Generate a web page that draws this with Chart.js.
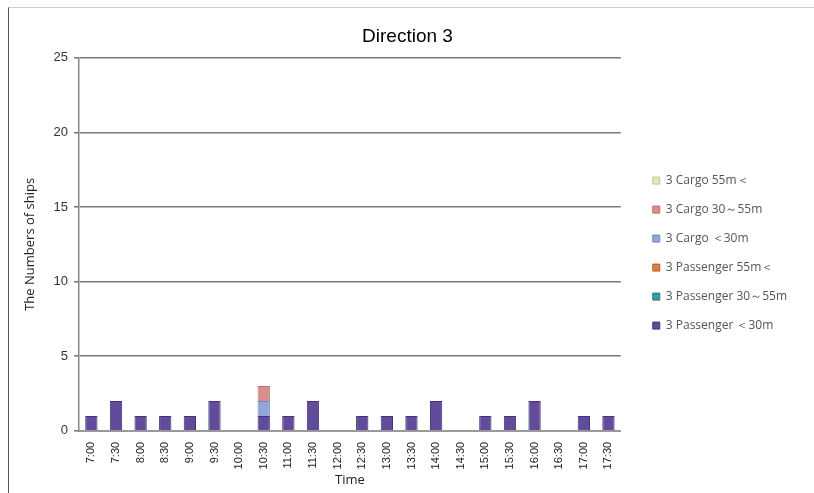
<!DOCTYPE html>
<html>
<head>
<meta charset="utf-8">
<script src="https://cdn.jsdelivr.net/npm/chart.js@4"></script>
<style>
  body { margin: 0; background: #fff; }
  #frame { position: absolute; left: 8px; top: 7px; width: 806px; height: 486px;
           border-left: 1px solid #555; border-top: 1px solid #ccc; }
  #wrap { position: absolute; left: 0; top: 0; width: 814px; height: 493px; }
</style>
</head>
<body>
<div id="frame"></div>
<div id="wrap"><canvas id="chartCanvas" width="814" height="493"></canvas></div>
<script>
// tidspunkter langs x-aksen
const times = ['7:00','7:30','8:00','8:30','9:00','9:30','10:00','10:30','11:00','11:30','12:00',
               '12:30','13:00','13:30','14:00','14:30','15:00','15:30','16:00','16:30','17:00','17:30'];

// antal skibe pr. kategori
const passengerUnder30 = [1,2,1,1,1,2,0,1,1,2,0,1,1,1,2,0,1,1,2,0,1,1];
const passenger30to55  = [0,0,0,0,0,0,0,0,0,0,0,0,0,0,0,0,0,0,0,0,0,0];
const passengerOver55  = [0,0,0,0,0,0,0,0,0,0,0,0,0,0,0,0,0,0,0,0,0,0];
const cargoUnder30     = [0,0,0,0,0,0,0,1,0,0,0,0,0,0,0,0,0,0,0,0,0,0];
const cargo30to55      = [0,0,0,0,0,0,0,1,0,0,0,0,0,0,0,0,0,0,0,0,0,0];
const cargoOver55      = [0,0,0,0,0,0,0,0,0,0,0,0,0,0,0,0,0,0,0,0,0,0];

const yTicks = [0,5,10,15,20,25];

function ds(label, data, color, border) {
  return { label: label, data: data, backgroundColor: color, borderColor: border,
           borderWidth: 1, barPercentage: 0.5, categoryPercentage: 1 };
}

let chart = new Chart(document.getElementById('chartCanvas'), {
  type: 'bar',
  data: {
    labels: times,
    datasets: [
      ds('3 Passenger \uFF1C30m', passengerUnder30, '#624b9a', '#44327a'),
      ds('3 Passenger 30\uFF5E55m', passenger30to55, '#3a9ba8', '#2a7b88'),
      ds('3 Passenger 55m\uFF1C', passengerOver55, '#e07f3a', '#b0602a'),
      ds('3 Cargo \uFF1C30m', cargoUnder30, '#93a6da', '#7085c0'),
      ds('3 Cargo 30\uFF5E55m', cargo30to55, '#d98e8e', '#b87070'),
      ds('3 Cargo 55m\uFF1C', cargoOver55, '#e8e4b8', '#c8c498')
    ]
  },
  options: {
    responsive: false,
    animation: false,
    layout: { padding: { left: 18, right: 17, top: 10, bottom: 5 } },
    plugins: {
      title: { display: true, text: 'Direction 3', color: '#000',
               font: { family: 'Liberation Sans', size: 19, weight: 'normal' },
               padding: { top: 15, bottom: 10 } },
      legend: { position: 'right', reverse: true, maxWidth: 220,
                // tom titel skubber punkterne lidt ned
                title: { display: true, text: ' ', padding: 3.5, font: { size: 1 } },
                labels: { boxWidth: 7, boxHeight: 7, padding: 17, color: '#555',
                          font: { family: 'Open Sans', size: 12 } } },
      tooltip: { enabled: false }
    },
    scales: {
      x: {
        stacked: true,
        grid: { display: false },
        border: { color: '#999', width: 2 },
        ticks: { minRotation: 90, maxRotation: 90, autoSkip: false, color: '#222',
                 font: { family: 'Liberation Sans', size: 11 } },
        title: { display: true, text: 'Time', color: '#222', padding: 0,
                 font: { family: 'Open Sans', size: 13 } }
      },
      y: {
        stacked: true,
        min: 0, max: 25,
        afterBuildTicks: axis => { axis.ticks = yTicks.map(v => ({ value: v })); },
        grid: { color: '#85766e', lineWidth: 1.6, drawTicks: true, tickLength: 5 },
        border: { color: '#888', width: 1.5 },
        ticks: { color: '#333', padding: 6, font: { family: 'Liberation Sans', size: 13 } },
        title: { display: true, text: 'The Numbers of ships', color: '#222',
                 padding: { top: 4, bottom: 10 },
                 font: { family: 'Open Sans', size: 13 } }
      },
      // tom akse til højre, kun for at lave luft før signaturforklaringen
      gap: {
        position: 'right',
        display: true,
        grid: { display: false },
        border: { display: false },
        ticks: { display: false },
        afterFit: s => { s.width = 15; }
      }
    }
  }
});
</script>
</body>
</html>
